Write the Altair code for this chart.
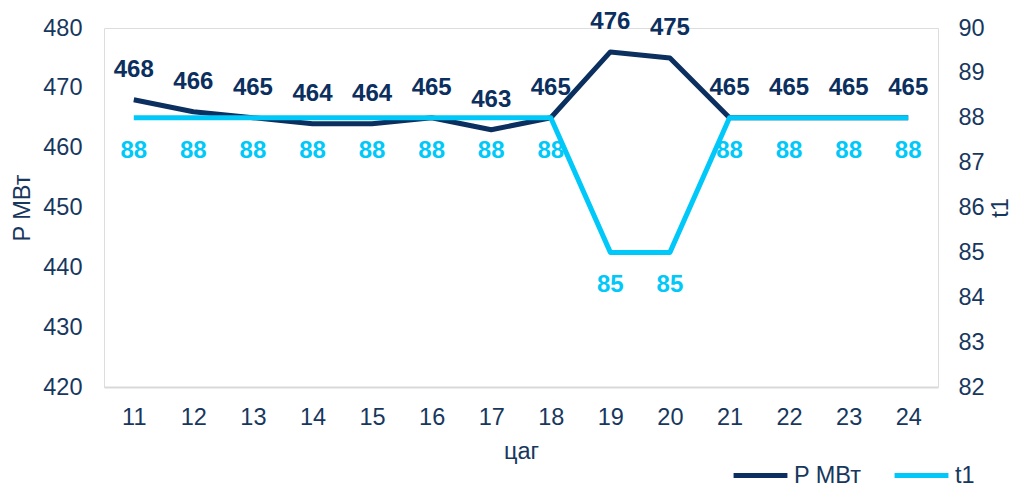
import altair as alt
import pandas as pd

hours = ["11", "12", "13", "14", "15", "16", "17", "18", "19", "20", "21", "22", "23", "24"]
p_mw = [468, 466, 465, 464, 464, 465, 463, 465, 476, 475, 465, 465, 465, 465]
t1 = [88, 88, 88, 88, 88, 88, 88, 88, 85, 85, 88, 88, 88, 88]

series_names = ["P МВт", "t1"]
NAVY = "#0B2F5E"
CYAN = "#00C8F8"
TEXT = "#17375E"
FONT = "Liberation Sans"
FS = 23.5
FS_LBL = 24

df_p = pd.DataFrame({"hour": hours, "value": p_mw, "series": series_names[0]})
df_t = pd.DataFrame({"hour": hours, "value": t1, "series": series_names[1]})

common_axis = dict(
    labelFont=FONT, titleFont=FONT, labelFontSize=FS, titleFontSize=FS,
    labelColor=TEXT, titleColor=TEXT, titleFontWeight="normal", labelFontWeight="normal",
)

x_enc = alt.X(
    "hour:N",
    sort=hours,
    scale=alt.Scale(paddingInner=0, paddingOuter=0),
    axis=alt.Axis(
        title="цаг", labelAngle=0, ticks=False, tickSize=0, domain=True,
        domainColor="#D9D9D9", domainWidth=2, labelPadding=18,
        titleY=64, titleBaseline="middle", **common_axis,
    ),
)

color_enc = alt.Color(
    "series:N",
    scale=alt.Scale(domain=series_names, range=[NAVY, CYAN]),
    legend=alt.Legend(
        title=None, orient="none", direction="horizontal",
        legendX=627, legendY=418, symbolType="stroke",
        symbolStrokeWidth=5, symbolSize=2900, columnPadding=22,
        labelFontSize=FS, labelColor=TEXT, labelFont=FONT, padding=0,
        labelOffset=4,
    ),
)

y_p = alt.Y(
    "value:Q",
    scale=alt.Scale(domain=[420, 480], nice=False, zero=False),
    axis=alt.Axis(
        title="P МВт", values=[420, 430, 440, 450, 460, 470, 480], grid=False,
        domain=False, ticks=False, tickSize=0, labelPadding=22,
        titleX=-82, titleY=179.5, titleAngle=270, titleBaseline="middle",
        titleAlign="center", **common_axis,
    ),
)
y_t = alt.Y(
    "value:Q",
    scale=alt.Scale(domain=[82, 90], nice=False, zero=False),
    axis=alt.Axis(
        title="t1", orient="right", values=list(range(82, 91)), grid=False,
        domain=False, ticks=False, tickSize=0, labelPadding=20,
        titleX=62, titleY=179.5, titleAngle=270, titleBaseline="middle",
        titleAlign="center", **common_axis,
    ),
)

p_line = alt.Chart(df_p).mark_line(strokeWidth=5, strokeCap="butt", strokeJoin="round").encode(
    x=x_enc, y=y_p, color=color_enc
)
p_text = alt.Chart(df_p).mark_text(
    dy=-30, fontSize=FS_LBL, fontWeight="bold", color=NAVY, font=FONT, baseline="middle"
).encode(x=alt.X("hour:N", sort=hours), y=alt.Y("value:Q"), text="value:Q")

t_line = alt.Chart(df_t).mark_line(strokeWidth=5, strokeCap="butt", strokeJoin="round").encode(
    x=alt.X("hour:N", sort=hours), y=y_t, color=color_enc
)
t_text = alt.Chart(df_t).mark_text(
    dy=33, fontSize=FS_LBL, fontWeight="bold", color=CYAN, font=FONT, baseline="middle"
).encode(x=alt.X("hour:N", sort=hours), y=alt.Y("value:Q"), text="value:Q")

chart = (
    alt.layer(alt.layer(p_line, p_text), alt.layer(t_line, t_text))
    .resolve_scale(y="independent")
    .properties(
        width=834, height=359,
        autosize=alt.AutoSizeParams(type="none"),
        padding={"left": 96, "top": 20, "right": 73, "bottom": 101},
    )
    .configure_view(stroke=None)
    .configure(background="white")
)

chart.save("out.html", embed_options={"renderer": "svg", "actions": False})
